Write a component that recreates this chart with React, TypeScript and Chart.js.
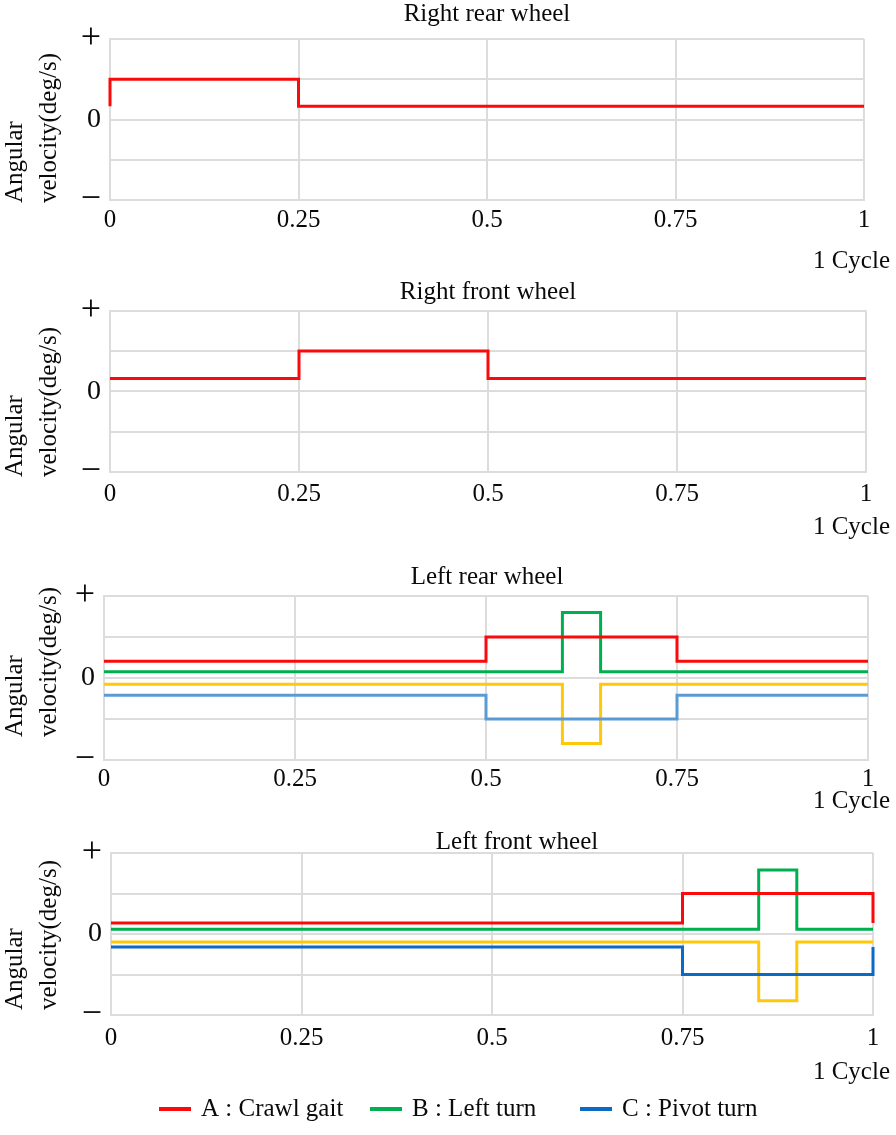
import React, { useEffect, useRef } from "react";
import { Chart, registerables } from "chart.js";

Chart.register(...registerables);

const FONT = '"Liberation Serif", "Times New Roman", Times, serif';
const GRID = "#dcdcdc";

// ---- data ----
const xTickValues = [0, 0.25, 0.5, 0.75, 1];
const yTickValues = [-2, -1, 0, 1, 2];
const yTickText: Record<string, string> = { "2": "+", "0": "0", "-2": "\u2212" };

const panelTitles = ["Right rear wheel", "Right front wheel", "Left rear wheel", "Left front wheel"];
const yAxisLabel = ["Angular", "velocity(deg/s)"];
const xAxisLabel = "1 Cycle";
const legendLabels = ["A : Crawl gait", "B : Left turn", "C : Pivot turn"];

// Right rear wheel
const rrCrawlX = [0, 0, 0.25, 0.25, 1];
const rrCrawlY = [0.33, 1, 1, 0.33, 0.33];
// Right front wheel
const rfCrawlX = [0, 0.25, 0.25, 0.5, 0.5, 1];
const rfCrawlY = [0.32, 0.32, 1, 1, 0.32, 0.32];
// Left rear wheel
const lrCrawlX = [0, 0.5, 0.5, 0.75, 0.75, 1];
const lrCrawlY = [0.41, 0.41, 1, 1, 0.41, 0.41];
const lrTurnX = [0, 0.6, 0.6, 0.65, 0.65, 1];
const lrTurnUpY = [0.15, 0.15, 1.6, 1.6, 0.15, 0.15];
const lrTurnDownY = [-0.15, -0.15, -1.6, -1.6, -0.15, -0.15];
const lrPivotX = [0, 0.5, 0.5, 0.75, 0.75, 1];
const lrPivotY = [-0.42, -0.42, -1, -1, -0.42, -0.42];
// Left front wheel
const lfCrawlX = [0, 0.75, 0.75, 1, 1];
const lfCrawlY = [0.27, 0.27, 1, 1, 0.27];
const lfTurnX = [0, 0.85, 0.85, 0.9, 0.9, 1];
const lfTurnUpY = [0.12, 0.12, 1.58, 1.58, 0.12, 0.12];
const lfTurnDownY = [-0.2, -0.2, -1.65, -1.65, -0.2, -0.2];
const lfPivotX = [0, 0.75, 0.75, 1, 1];
const lfPivotY = [-0.32, -0.32, -1, -1, -0.32];

// ---- styles ----
const RED = "#fa0a0a";
const GREEN = "#00b050";
const YELLOW = "#ffc80a";
const LIGHTBLUE = "#5b9bd5";
const BLUE = "#0a6ac4";
const TEXT = "#0a0a0a";

type Series = { x: number[]; y: number[]; color: string; label: string };
type PanelCfg = {
  title: string;
  y0: number; y1: number;
  top: number; bottom: number; left: number; right: number;
  titleX: number; titleY: number;
  cycleY: number; labelY: number; xPad: number;
  series: Series[];
  legend?: boolean;
};

const panels: PanelCfg[] = [
  {
    title: panelTitles[0], y0: 0, y1: 280, top: 39, bottom: 200, left: 110, right: 864,
    titleX: 487, titleY: 14, cycleY: 261, labelY: 203, xPad: 5,
    series: [{ x: rrCrawlX, y: rrCrawlY, color: RED, label: legendLabels[0] }],
  },
  {
    title: panelTitles[1], y0: 280, y1: 545, top: 310, bottom: 472, left: 110, right: 866,
    titleX: 488, titleY: 292, cycleY: 527, labelY: 477, xPad: 7,
    series: [{ x: rfCrawlX, y: rfCrawlY, color: RED, label: legendLabels[0] }],
  },
  {
    title: panelTitles[2], y0: 545, y1: 815, top: 596, bottom: 760, left: 104, right: 868,
    titleX: 487, titleY: 577, cycleY: 801, labelY: 737, xPad: 4,
    series: [
      { x: lrPivotX, y: lrPivotY, color: LIGHTBLUE, label: legendLabels[2] },
      { x: lrTurnX, y: lrTurnDownY, color: YELLOW, label: "" },
      { x: lrCrawlX, y: lrCrawlY, color: RED, label: legendLabels[0] },
      { x: lrTurnX, y: lrTurnUpY, color: GREEN, label: legendLabels[1] },
    ],
  },
  {
    title: panelTitles[3], y0: 815, y1: 1135, top: 853, bottom: 1015, left: 111, right: 873,
    titleX: 517, titleY: 842, cycleY: 1072, labelY: 1010, xPad: 8,
    series: [
      { x: lfPivotX, y: lfPivotY, color: BLUE, label: legendLabels[2] },
      { x: lfTurnX, y: lfTurnDownY, color: YELLOW, label: "" },
      { x: lfCrawlX, y: lfCrawlY, color: RED, label: legendLabels[0] },
      { x: lfTurnX, y: lfTurnUpY, color: GREEN, label: legendLabels[1] },
    ],
    legend: true,
  },
];

const legendItems = [
  { label: legendLabels[0], color: RED, x: 159 },
  { label: legendLabels[1], color: GREEN, x: 370 },
  { label: legendLabels[2], color: BLUE, x: 580 },
];
const LEGEND_Y = 1109;

function Panel({ cfg }: { cfg: PanelCfg }) {
  const ref = useRef<HTMLCanvasElement | null>(null);
  const H = cfg.y1 - cfg.y0;

  useEffect(() => {
    const canvas = ref.current;
    if (!canvas) return;
    const top = cfg.top - cfg.y0;
    const bottom = cfg.bottom - cfg.y0;

    const textPlugin = {
      id: "panelText",
      afterDraw(chart: any) {
        const ctx: CanvasRenderingContext2D = chart.ctx;
        ctx.save();
        ctx.fillStyle = TEXT;
        ctx.font = `25px ${FONT}`;
        ctx.textAlign = "center";
        ctx.textBaseline = "middle";
        ctx.fillText(cfg.title, cfg.titleX, cfg.titleY - cfg.y0);
        ctx.textAlign = "right";
        ctx.fillText(xAxisLabel, 890, cfg.cycleY - cfg.y0);

        ctx.font = `25px ${FONT}`;
        ctx.textAlign = "left";
        ctx.textBaseline = "alphabetic";
        const baseX = [22, 56];
        yAxisLabel.forEach((t, i) => {
          ctx.save();
          ctx.translate(baseX[i], cfg.labelY - cfg.y0);
          ctx.rotate(-Math.PI / 2);
          ctx.fillText(t, 0, 0);
          ctx.restore();
        });

        if (cfg.legend) {
          const ly = LEGEND_Y - cfg.y0;
          ctx.font = `25px ${FONT}`;
          ctx.textBaseline = "middle";
          ctx.textAlign = "left";
          legendItems.forEach((it) => {
            ctx.strokeStyle = it.color;
            ctx.lineWidth = 4;
            ctx.beginPath();
            ctx.moveTo(it.x, ly);
            ctx.lineTo(it.x + 32, ly);
            ctx.stroke();
            ctx.fillStyle = TEXT;
            ctx.fillText(it.label, it.x + 42, ly);
          });
        }
        ctx.restore();
      },
    };

    const chart = new Chart(canvas, {
      type: "line",
      data: {
        datasets: cfg.series.map((s) => ({
          label: s.label,
          data: s.x.map((x, i) => ({ x, y: s.y[i] })),
          borderColor: s.color,
          backgroundColor: s.color,
          borderWidth: 3,
          pointRadius: 0,
          tension: 0,
          fill: false,
          clip: 6,
          borderJoinStyle: "miter",
        })),
      },
      options: {
        responsive: false,
        maintainAspectRatio: false,
        animation: false,
        layout: { padding: { top, right: 896 - cfg.right, left: 0, bottom: 0 } },
        plugins: {
          legend: { display: false },
          tooltip: { enabled: false },
          title: { display: false },
        },
        scales: {
          x: {
            type: "linear",
            min: 0,
            max: 1,
            afterBuildTicks: (s: any) => {
              s.ticks = xTickValues.map((v) => ({ value: v }));
            },
            afterFit: (s: any) => {
              s.height = H - bottom;
            },
            ticks: {
              autoSkip: false,
              maxRotation: 0,
              padding: cfg.xPad,
              color: TEXT,
              font: { family: FONT, size: 25 },
              callback: (v: any) => String(v),
            },
            grid: { color: GRID, lineWidth: 2, drawTicks: false },
            border: { color: GRID, width: 2 },
          },
          y: {
            type: "linear",
            min: -2,
            max: 2,
            afterBuildTicks: (s: any) => {
              s.ticks = yTickValues.map((v) => ({ value: v }));
            },
            afterFit: (s: any) => {
              s.width = cfg.left;
            },
            ticks: {
              autoSkip: false,
              padding: 9,
              color: TEXT,
              font: (c: any) => ({
                family: FONT,
                size: c.tick && c.tick.value === 0 ? 28 : 36,
              }),
              callback: (v: any) => yTickText[String(v)] ?? "",
            },
            grid: { color: GRID, lineWidth: 2, drawTicks: false },
            border: { color: GRID, width: 2 },
          },
        },
      },
      plugins: [textPlugin],
    } as any);

    return () => chart.destroy();
  }, []);

  return (
    <canvas
      ref={ref}
      width={896}
      height={H}
      style={{ position: "absolute", left: 0, top: cfg.y0, width: 896, height: H, display: "block" }}
    />
  );
}

export default function App() {
  return (
    <div style={{ position: "absolute", left: 0, top: 0, width: 896, height: 1135, background: "#fff", overflow: "hidden" }}>
      {panels.map((p, i) => (
        <Panel key={i} cfg={p} />
      ))}
    </div>
  );
}
